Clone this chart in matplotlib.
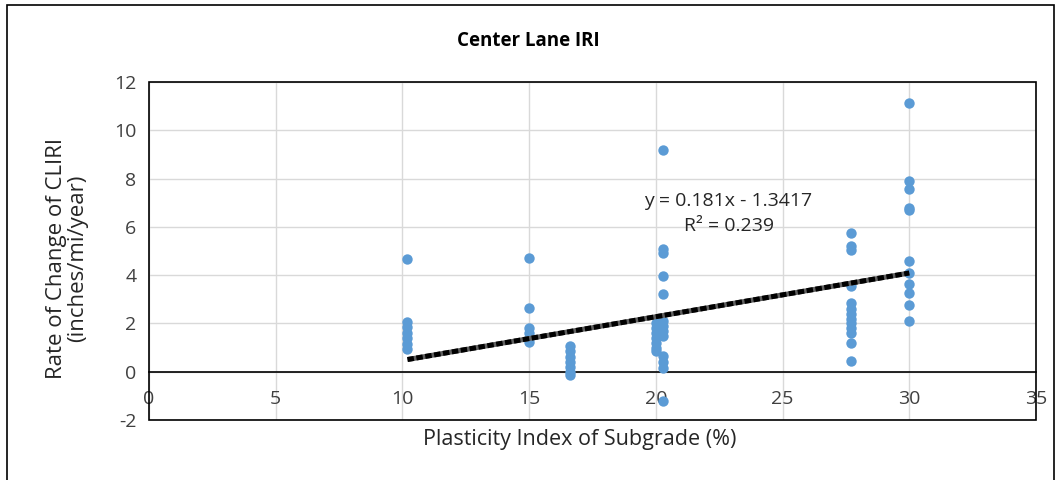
import matplotlib
matplotlib.use("Agg")
import matplotlib.pyplot as plt
from matplotlib.patches import Rectangle
import numpy as np

plt.rcParams['font.family'] = ['Open Sans', 'DejaVu Sans']
plt.rcParams['axes.unicode_minus'] = False

# ---- data ----
pi_102 = [10.2] * 7
rate_102 = [4.65, 2.05, 1.85, 1.6, 1.4, 1.15, 0.95]
pi_15 = [15.0] * 6
rate_15 = [4.7, 2.65, 1.8, 1.6, 1.4, 1.25]
pi_166 = [16.6] * 7
rate_166 = [1.05, 0.85, 0.6, 0.4, 0.2, 0.0, -0.12]
pi_20 = [20.0] * 7
rate_20 = [2.0, 1.8, 1.6, 1.4, 1.2, 1.0, 0.85]
pi_203 = [20.3] * 13
rate_203 = [9.2, 5.1, 4.9, 3.95, 3.2, 2.1, 1.9, 1.7, 1.5, 0.65, 0.4, 0.15, -1.2]
pi_277 = [27.7] * 13
rate_277 = [5.75, 5.2, 5.05, 3.57, 2.85, 2.6, 2.4, 2.2, 2.0, 1.8, 1.6, 1.2, 0.46]
pi_30 = [30.0] * 11
rate_30 = [11.15, 7.9, 7.55, 6.8, 6.7, 4.6, 4.07, 3.65, 3.24, 2.78, 2.08]

slope = 0.181
intercept = -1.3417
r2 = 0.239

x_ticks = [0, 5, 10, 15, 20, 25, 30, 35]
y_ticks = [-2, 0, 2, 4, 6, 8, 10, 12]

title = "Center Lane IRI"
x_label = "Plasticity Index of Subgrade (%)"
y_label = "Rate of Change of CLIRI\n(inches/mi/year)"

# ---- figure ----
fig = plt.figure(figsize=(10.6, 4.8), dpi=100)
ax = fig.add_axes([149/1060, 1 - 420/480, (1036-149)/1060, (420-82)/480])

pi_all = np.array(pi_102 + pi_15 + pi_166 + pi_20 + pi_203 + pi_277 + pi_30)
rate_all = np.array(rate_102 + rate_15 + rate_166 + rate_20 + rate_203 + rate_277 + rate_30)

ax.set_xlim(0, 35)
ax.set_ylim(-2, 12)
ax.set_xticks(x_ticks)
ax.set_yticks(y_ticks)
ax.grid(True, color='#d9d9d9', linewidth=1)
ax.set_axisbelow(True)

ax.scatter(pi_all, rate_all, s=56, color='#5b9bd5', zorder=3, linewidths=0)

xt = np.array([pi_all.min(), pi_all.max()])
yt = slope * xt + intercept
ax.plot(xt, yt, color='#606060', lw=3.6, zorder=4, solid_capstyle='butt')
ax.plot(xt, yt, color='black', lw=3.6, zorder=5, dashes=(1.3, 0.5), dash_capstyle='butt')

# spines: bottom axis at y=0, full box around plot area
for s in ['top', 'right', 'left']:
    ax.spines[s].set_visible(False)
ax.spines['bottom'].set_position(('data', 0))
ax.spines['bottom'].set_color('black')
ax.spines['bottom'].set_linewidth(1.2)
ax.add_patch(Rectangle((0, 0), 1, 1, transform=ax.transAxes, fill=False,
                       edgecolor='black', linewidth=1.2, clip_on=False, zorder=6))

ax.tick_params(axis='both', length=0, labelsize=14, labelcolor='#404040')
ax.tick_params(axis='x', pad=13)
ax.tick_params(axis='y', pad=9)

ax.text(22.85, 7.07, f"y = {slope}x - {abs(intercept)}", fontsize=14,
        color='#262626', ha='center', va='center', zorder=7)
ax.text(22.9, 6.04, f"R² = {r2}", fontsize=14, color='#262626', ha='center', va='center', zorder=7)

fig.text(528/1060, 1 - 41/480, title, fontsize=13.5, fontweight='bold', ha='center', va='center', color='black')
fig.text(580/1060, 1 - 440/480, x_label, fontsize=15.5, ha='center', va='center', color='#262626')
fig.text(67/1060, 1 - 258/480, y_label, fontsize=16, ha='center', va='center', rotation=90,
         color='#262626', linespacing=1.0)

# outer chart frame
fig.add_artist(Rectangle((7/1060, -0.05), (1054-7)/1060, 1 - 5/480 + 0.05,
                         transform=fig.transFigure, fill=False, edgecolor='black', linewidth=1.2))

fig.savefig("out.png", dpi=100, facecolor='white')
